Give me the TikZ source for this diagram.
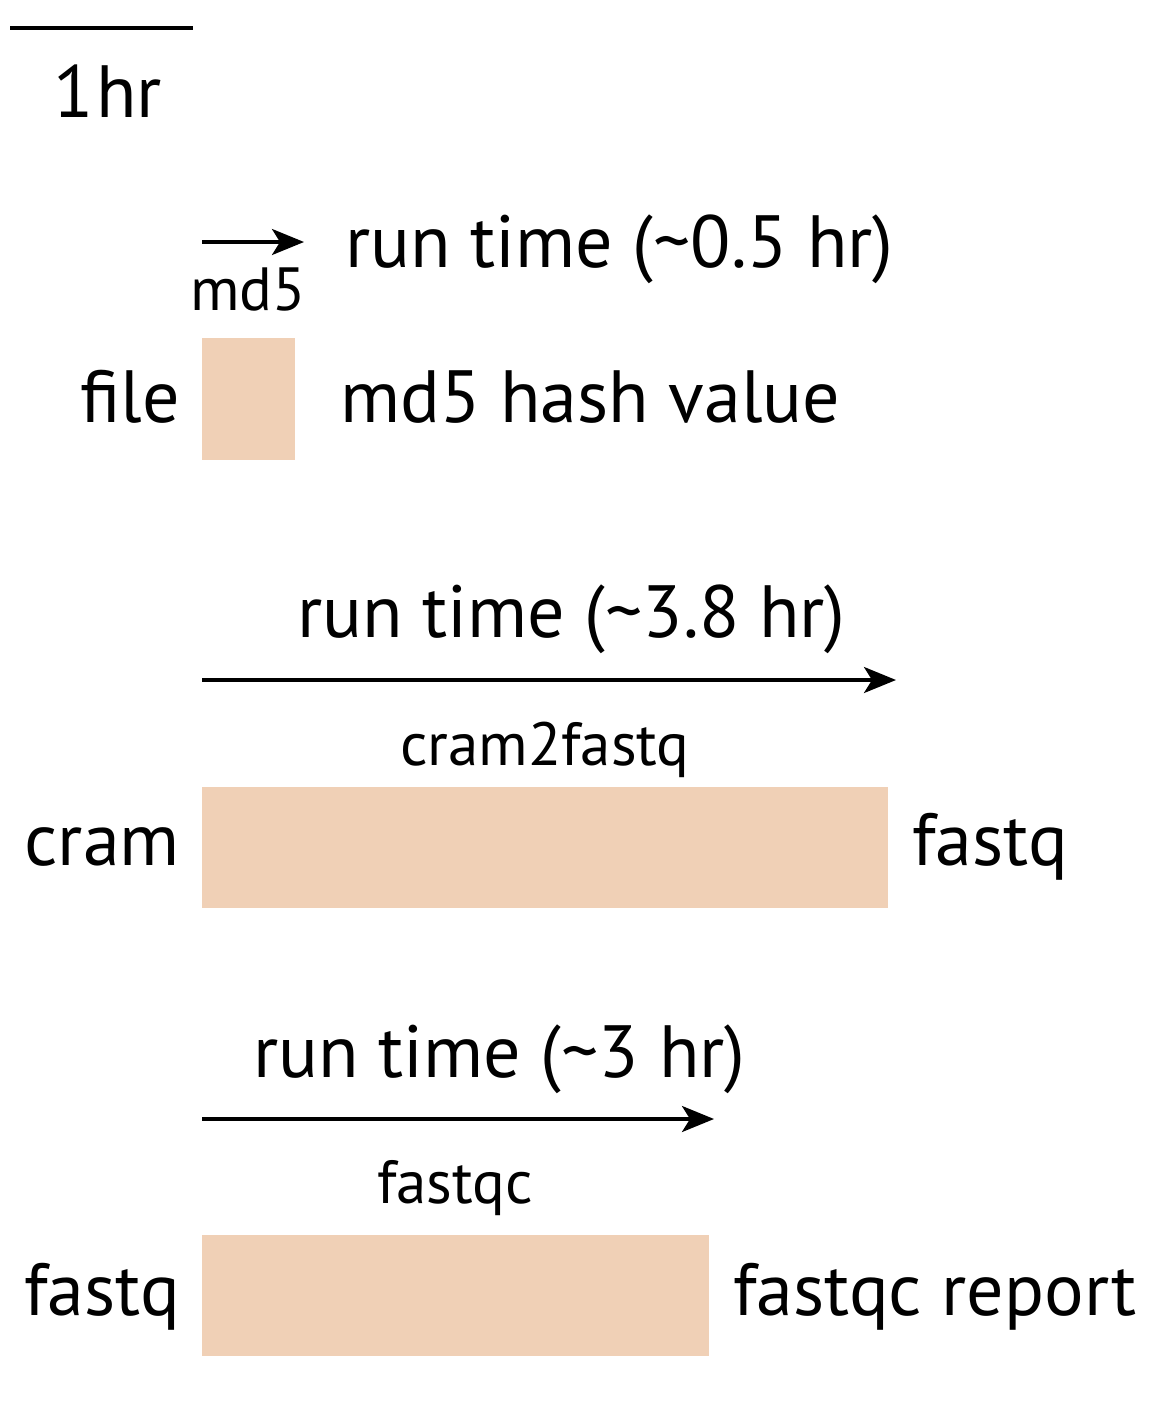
\documentclass[tikz,border=0pt]{standalone}
\usepackage{fontspec}
\setmainfont{PT Sans}
\usetikzlibrary{arrows.meta}
\definecolor{boxfill}{HTML}{F0D0B6}
\tikzset{
  big/.style={inner sep=0pt,font=\fontsize{74}{80}\selectfont},
  small/.style={inner sep=0pt,font=\fontsize{61}{66}\selectfont},
  procbox/.style={fill=boxfill,draw=none},
  timearrow/.style={line width=3.2pt,-{Stealth[length=32pt,width=26pt,inset=8pt]}},
  scalebar/.style={line width=3.2pt}
}
\begin{document}
\begin{tikzpicture}[x=1pt,y=-1pt]
\useasboundingbox (0,0) rectangle (1160,1416);
% scale bar
\coordinate (sbL) at (10,28);
\coordinate (sbR) at (193,28);
\draw[scalebar] (sbL) -- (sbR);
\node[big,anchor=base west] (onehr) at (53,117) {1\kern3pt hr};
% md5
\coordinate (a1s) at (202,242);
\coordinate (a1e) at (304,242);
\draw[timearrow] (a1s) -- (a1e);
\node[small,anchor=base west] (md5lbl) at (190,310) {md5};
\node[big,anchor=base west] (rt1) at (345,267) {run time (\char"7E 0.5 hr)};
\node[procbox,minimum width=93pt,minimum height=122pt,anchor=north west] (box1) at (202,338) {};
\node[big,anchor=base east] (in1) at (180,422) {file};
\node[big,anchor=base west] (out1) at (340,422) {md5 hash value};
% cram2fastq
\node[big,anchor=base west] (rt2) at (297,637) {run time (\char"7E 3.8 hr)};
\coordinate (a2s) at (202,680);
\coordinate (a2e) at (896,680);
\draw[timearrow] (a2s) -- (a2e);
\node[small,anchor=base west] (c2flbl) at (400,765) {cram2fastq};
\node[procbox,minimum width=686pt,minimum height=121pt,anchor=north west] (box2) at (202,787) {};
\node[big,anchor=base east] (in2) at (180,865) {cram};
\node[big,anchor=base west] (out2) at (912,865) {fastq};
% fastqc
\node[big,anchor=base west] (rt3) at (253,1077) {run time (\char"7E 3 hr)};
\coordinate (a3s) at (202,1119);
\coordinate (a3e) at (714,1119);
\draw[timearrow] (a3s) -- (a3e);
\node[small,anchor=base west] (fqclbl) at (377,1203) {fastqc};
\node[procbox,minimum width=507pt,minimum height=121pt,anchor=north west] (box3) at (202,1235) {};
\node[big,anchor=base east] (in3) at (180,1315) {fastq};
\node[big,anchor=base west] (out3) at (733,1315) {fastqc report};
\end{tikzpicture}
\end{document}
